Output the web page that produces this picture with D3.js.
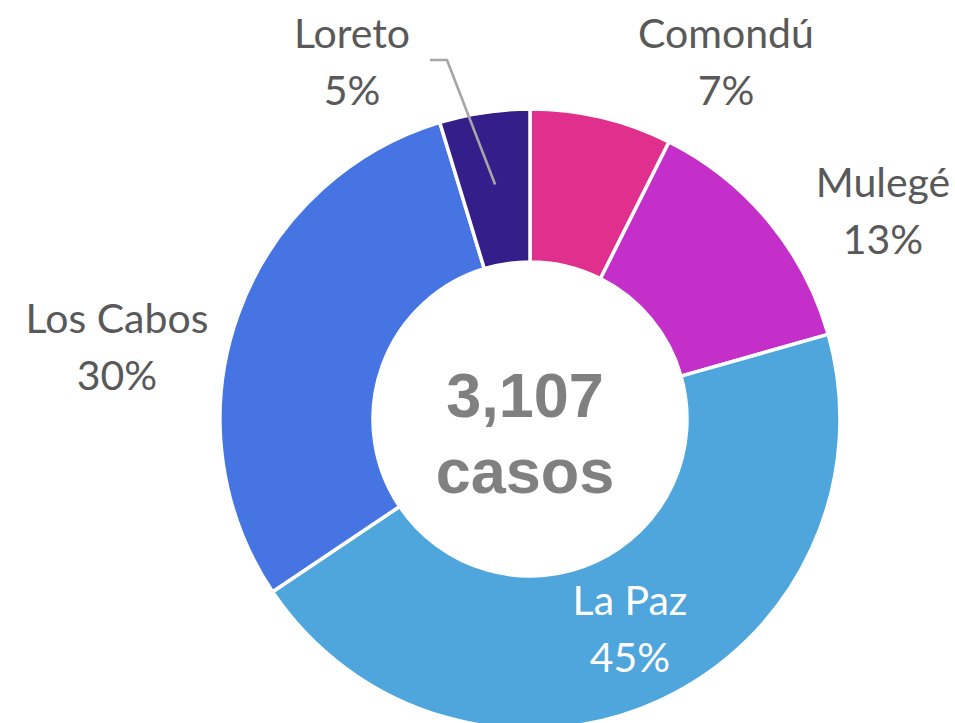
<!DOCTYPE html>
<html>
<head>
<meta charset="utf-8">
<script src="https://cdn.jsdelivr.net/npm/d3@7"></script>
<style>
  html, body { margin: 0; padding: 0; background: #fff; }
  svg { display: block; }
</style>
</head>
<body>
<svg id="chart" width="955" height="723"></svg>
<script>
// ---- data ----
const categories = ["Comondú", "Mulegé", "La Paz", "Los Cabos", "Loreto"];
const values = [230, 410, 1398, 923, 146];
const percentLabels = ["7%", "13%", "45%", "30%", "5%"];
const colors = ["#E02F8D", "#C42FC9", "#4EA6DC", "#4675E3", "#331E8A"];
const totalLabel = ["3,107", "casos"];

// ---- layout (not data) ----
const W = 955, H = 723;
const cx = 530, cy = 419;
const outerR = 310, innerR = 157;
const labelPos = {
  "Comondú": { x: 726, y: 48, color: "#595959" },
  "Mulegé": { x: 883, y: 197, color: "#595959" },
  "La Paz": { x: 630, y: 615, color: "#ffffff" },
  "Los Cabos": { x: 117, y: 333, color: "#595959" },
  "Loreto": { x: 352, y: 48, color: "#595959" }
};
const lineGap = 57;
const labelFont = 41;

const svg = d3.select("#chart");
const g = svg.append("g").attr("transform", `translate(${cx},${cy})`);

const data = categories.map((c, i) => ({ name: c, value: values[i], pct: percentLabels[i], color: colors[i] }));

const pie = d3.pie().sort(null).value(d => d.value);
const arcs = pie(data);
const arc = d3.arc().innerRadius(innerR).outerRadius(outerR);

g.selectAll("path.slice")
  .data(arcs)
  .enter().append("path")
  .attr("class", "slice")
  .attr("d", arc)
  .attr("fill", d => d.data.color)
  .attr("stroke", "#ffffff")
  .attr("stroke-width", 3.5)
  .attr("stroke-linejoin", "miter");

// Leader line for Loreto
const lor = arcs.find(a => a.data.name === "Loreto");
const midA = (lor.startAngle + lor.endAngle) / 2;
const endR = 237;
const ex = cx + endR * Math.sin(midA), ey = cy - endR * Math.cos(midA);
svg.append("polyline")
  .attr("points", `${430},${60} ${447},${60} ${ex},${ey}`)
  .attr("fill", "none")
  .attr("stroke", "#A6A6A6")
  .attr("stroke-width", 2.6);

// Labels
const labels = svg.selectAll("g.lbl")
  .data(arcs)
  .enter().append("g")
  .attr("class", "lbl");

labels.append("text")
  .attr("x", d => labelPos[d.data.name].x)
  .attr("y", d => labelPos[d.data.name].y)
  .attr("text-anchor", "middle")
  .attr("font-family", "Lato, 'Open Sans', sans-serif")
  .attr("font-size", labelFont)
  .attr("fill", d => labelPos[d.data.name].color)
  .text(d => d.data.name);

labels.append("text")
  .attr("x", d => labelPos[d.data.name].x)
  .attr("y", d => labelPos[d.data.name].y + lineGap)
  .attr("text-anchor", "middle")
  .attr("font-family", "Lato, 'Open Sans', sans-serif")
  .attr("font-size", labelFont)
  .attr("fill", d => labelPos[d.data.name].color)
  .text(d => d.data.pct);

// Center text
svg.append("text")
  .attr("x", cx - 5).attr("y", 417)
  .attr("text-anchor", "middle")
  .attr("font-family", "'Liberation Sans', Arial, sans-serif")
  .attr("font-weight", "bold")
  .attr("font-size", 63)
  .attr("fill", "#808080")
  .text(totalLabel[0]);
svg.append("text")
  .attr("x", cx - 5).attr("y", 493)
  .attr("text-anchor", "middle")
  .attr("font-family", "'Liberation Sans', Arial, sans-serif")
  .attr("font-weight", "bold")
  .attr("font-size", 63)
  .attr("fill", "#808080")
  .text(totalLabel[1]);
</script>
</body>
</html>
